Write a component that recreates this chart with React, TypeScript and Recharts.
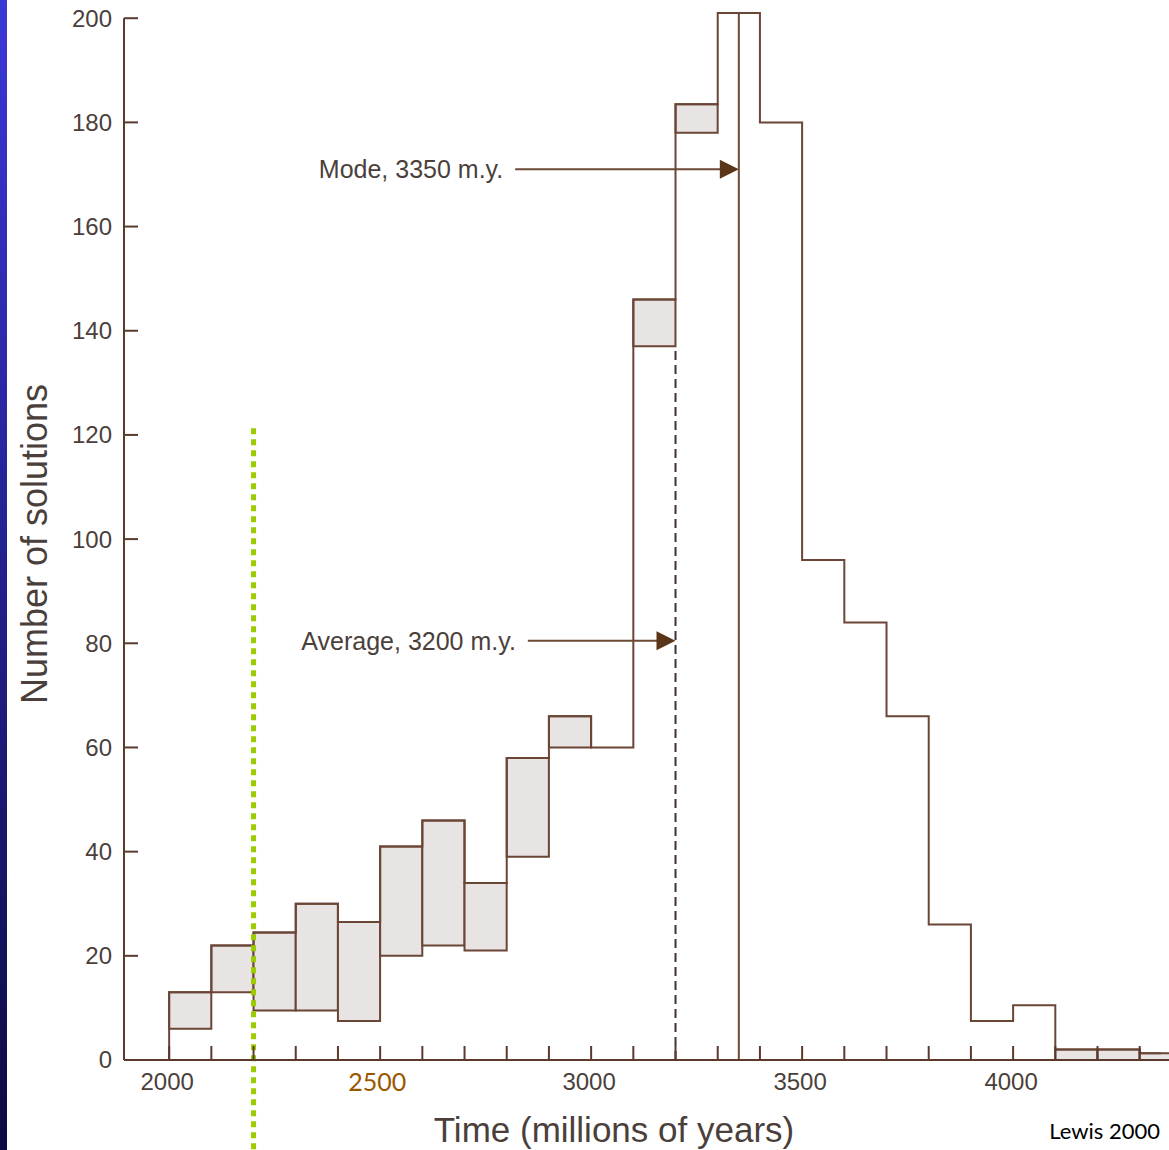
import React from "react";
import { Bar, ComposedChart, Label, Line, ReferenceLine, XAxis, YAxis } from "recharts";

// 100 m.y. bins, keyed by the start of the bin (the 1900 bin is empty)
const binStart = [
	1900, 2000, 2100, 2200, 2300, 2400, 2500, 2600, 2700, 2800, 2900, 3000, 3100,
	3200, 3300, 3400, 3500, 3600, 3700, 3800, 3900, 4000, 4100, 4200, 4300,
];
// lower and upper number of solutions in each bin (grey box = spread)
const lowCount = [
	0, 6, 13, 9.5, 9.5, 7.5, 20, 22, 21, 39, 60, 60, 137, 178, 201, 180, 96, 84,
	66, 26, 7.5, 10.5, 0, 0, 0,
];
const highCount = [
	0, 13, 22, 24.5, 30, 26.5, 41, 46, 34, 58, 66, 60, 146, 183.5, 201, 180, 96,
	84, 66, 26, 7.5, 10.5, 2, 2, 1.3,
];

const xTicks = [
	2000, 2100, 2200, 2300, 2400, 2500, 2600, 2700, 2800, 2900, 3000, 3100, 3200,
	3300, 3400, 3500, 3600, 3700, 3800, 3900, 4000, 4100, 4200, 4300, 4400,
];
const labeledYears = [2000, 2500, 3000, 3500, 4000];
const yTicks = [0, 20, 40, 60, 80, 100, 120, 140, 160, 180, 200];

const MODE = 3350;
const MODE_TOP = 201;
const AVERAGE = 3200;
const AVERAGE_TOP = 137;
const HIGHLIGHT = 2200;

const data = binStart.map((start, i) => ({
	mid: start + 50,
	low: lowCount[i],
	high: highCount[i],
}));

const X_MIN = 1893;
const X_MAX = 4450;
const CHART_W = 1203;
const CHART_H = 1150;
const Y_AXIS_W = 124;
const X_AXIS_H = 90;
// one bin wide, a hair under the band so recharts doesn't shrink it
const BAR_W = (100 * (CHART_W - Y_AXIS_W)) / (X_MAX - X_MIN) - 0.05;

const AXIS = "#5a3a2c";
const BOX = "#6b4535";
const TEXT = "#4b3f3b";
const ARROW = "#6b4a36";
const FONT = "'Liberation Sans', Arial, sans-serif";

const YTick = ({ x, y, payload }: any) => (
	<g>
		<line x1={x + 12} x2={x + 26} y1={y} y2={y} stroke={AXIS} strokeWidth={2} />
		<text
			x={x}
			y={y}
			dy="0.35em"
			textAnchor="end"
			fill={TEXT}
			fontSize={24}
			fontFamily={FONT}
		>
			{payload.value}
		</text>
	</g>
);

const XTick = ({ x, y, payload }: any) => {
	const v = payload.value;
	const axisY = y - 13;
	const is2500 = v === 2500;
	return (
		<g>
			<line x1={x} x2={x} y1={axisY} y2={axisY - 14} stroke={AXIS} strokeWidth={2} />
			{labeledYears.includes(v) && (
				<text
					x={is2500 ? x - 3 : x - 2}
					y={y}
					dy="0.71em"
					textAnchor="middle"
					fill={is2500 ? "#9a5700" : TEXT}
					fontSize={is2500 ? 25 : 24}
					fontFamily={is2500 ? "Lato, sans-serif" : FONT}
				>
					{v}
				</text>
			)}
		</g>
	);
};

const arrowShape = (text: string) => (props: any) => {
	const { x1, y1, x2 } = props;
	const left = Math.min(x1, x2);
	const tip = Math.max(x1, x2);
	return (
		<g>
			<line x1={left} y1={y1} x2={tip - 14} y2={y1} stroke={ARROW} strokeWidth={2} />
			<polygon
				points={`${tip},${y1} ${tip - 19},${y1 - 9.5} ${tip - 19},${y1 + 9.5}`}
				fill="#5a3517"
			/>
			<text
				x={left - 12}
				y={y1}
				dy="0.36em"
				textAnchor="end"
				fill={TEXT}
				fontSize={25}
				fontFamily={FONT}
			>
				{text}
			</text>
		</g>
	);
};

const App = () => {
	return (
		<div
			style={{
				position: "absolute",
				left: 0,
				top: 0,
				width: 1169,
				height: 1150,
				overflow: "hidden",
				background: "#ffffff",
			}}
		>
			<div
				style={{
					position: "absolute",
					left: 0,
					top: 0,
					width: 7,
					height: 1150,
					background: "linear-gradient(to bottom, #3a37d9, #0c0a40)",
					zIndex: 2,
				}}
			/>
			<ComposedChart
				width={CHART_W}
				height={CHART_H}
				data={data}
				barCategoryGap={0}
				barGap={0}
				margin={{ top: 13, right: 0, bottom: 0, left: 0 }}
			>
				<XAxis
					dataKey="mid"
					type="number"
					domain={[X_MIN, X_MAX]}
					ticks={xTicks}
					interval={0}
					height={X_AXIS_H}
					tickSize={0}
					tickMargin={13}
					tick={<XTick />}
					tickLine={false}
					axisLine={{ stroke: AXIS, strokeWidth: 2 }}
				>
					<Label
						content={({ viewBox }: any) => (
							<text
								x={viewBox.x + 490}
								y={viewBox.y + 82}
								textAnchor="middle"
								fill={TEXT}
								fontSize={35}
								fontFamily={FONT}
							>
								Time (millions of years)
							</text>
						)}
					/>
				</XAxis>
				<YAxis
					type="number"
					domain={[0, MODE_TOP]}
					ticks={yTicks}
					interval={0}
					width={Y_AXIS_W}
					tickSize={0}
					tickMargin={12}
					tick={<YTick />}
					tickLine={false}
					axisLine={false}
				>
					<Label
						content={() => (
							<text
								x={47}
								y={544}
								transform="rotate(-90, 47, 544)"
								textAnchor="middle"
								fill={TEXT}
								fontSize={36}
								fontFamily={FONT}
							>
								Number of solutions
							</text>
						)}
					/>
				</YAxis>
				<ReferenceLine
					segment={[
						{ x: X_MIN, y: 0 },
						{ x: X_MIN, y: 200 },
					]}
					stroke={AXIS}
					strokeWidth={2}
					ifOverflow="visible"
				/>
				<Bar
					dataKey={(d: any) => [d.low, d.high]}
					barSize={BAR_W}
					fill="#e8e4e4"
					stroke={BOX}
					strokeWidth={2}
					isAnimationActive={false}
				/>
				<Line
					dataKey="high"
					type="step"
					stroke={BOX}
					strokeWidth={2}
					dot={false}
					activeDot={false}
					isAnimationActive={false}
				/>
				<ReferenceLine
					segment={[
						{ x: AVERAGE, y: 0 },
						{ x: AVERAGE, y: AVERAGE_TOP },
					]}
					stroke="#3e3330"
					strokeWidth={2}
					strokeDasharray="9 5"
					ifOverflow="visible"
				/>
				<ReferenceLine
					segment={[
						{ x: MODE, y: 0 },
						{ x: MODE, y: MODE_TOP },
					]}
					stroke={ARROW}
					strokeWidth={2}
					ifOverflow="visible"
				/>
				<ReferenceLine
					segment={[
						{ x: 2820, y: 171 },
						{ x: MODE, y: 171 },
					]}
					ifOverflow="visible"
					shape={arrowShape("Mode, 3350 m.y.")}
				/>
				<ReferenceLine
					segment={[
						{ x: 2850, y: 80.5 },
						{ x: AVERAGE, y: 80.5 },
					]}
					ifOverflow="visible"
					shape={arrowShape("Average, 3200 m.y.")}
				/>
				<ReferenceLine
					segment={[
						{ x: HIGHLIGHT, y: 121.3 },
						{ x: HIGHLIGHT, y: -18 },
					]}
					stroke="#9ccc00"
					strokeWidth={5}
					strokeDasharray="6 5"
					ifOverflow="visible"
				/>
			</ComposedChart>
			<div
				style={{
					position: "absolute",
					right: 9,
					top: 1117,
					fontFamily: "Lato, sans-serif",
					fontSize: 22,
					color: "#000",
				}}
			>
				Lewis 2000
			</div>
		</div>
	);
};

export default App;
